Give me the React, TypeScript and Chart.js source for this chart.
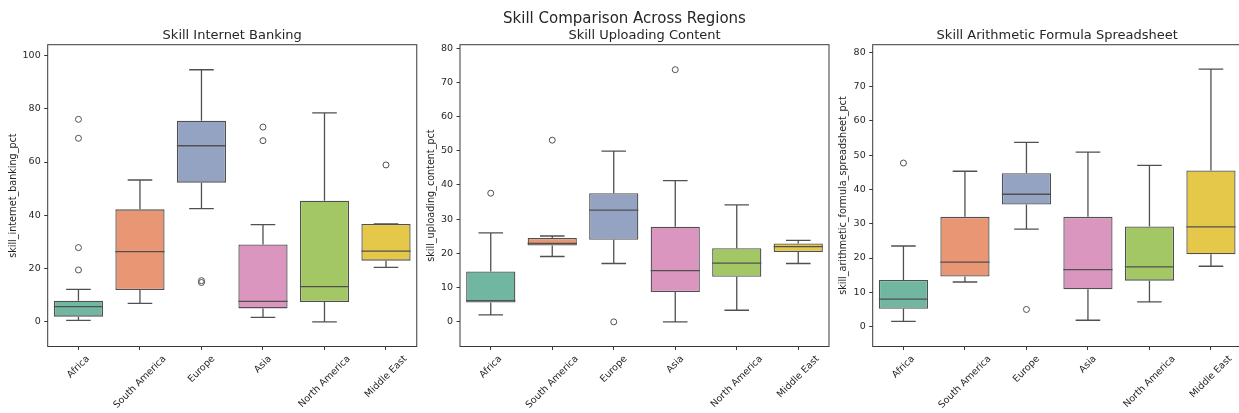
import React, { useEffect, useRef } from "react";
import { Chart, registerables } from "chart.js";

Chart.register(...registerables);

const regions = ["Africa", "South America", "Europe", "Asia", "North America", "Middle East"];
const palette = ["#71b6a1", "#e99675", "#95a3c3", "#db96c0", "#a2c764", "#e5c849"];

// Skill Internet Banking
const bankingLow = [0.6, 7.0, 42.5, 1.75, 0.0, 20.5];
const bankingQ1 = [2.0, 12.0, 52.25, 5.1, 7.5, 23.0];
const bankingMedian = [5.75, 26.4, 66.1, 7.75, 13.25, 26.6];
const bankingQ3 = [8.0, 42.25, 75.5, 29.1, 45.5, 36.75];
const bankingHigh = [12.25, 53.25, 94.6, 36.5, 78.4, 36.75];
const bankingOutliers = [[19.5, 27.9, 68.9, 76.0], [], [14.8, 15.5], [68.0, 73.1], [], [58.9]];

// Skill Uploading Content
const uploadLow = [2.05, 19.1, 17.05, 0.0, 3.4, 17.05];
const uploadQ1 = [5.65, 22.3, 24.0, 8.7, 13.2, 20.4];
const uploadMedian = [6.2, 22.9, 32.65, 15.0, 17.15, 22.0];
const uploadQ3 = [14.7, 24.5, 37.6, 27.8, 21.5, 22.9];
const uploadHigh = [26.0, 25.1, 49.9, 41.3, 34.2, 23.8];
const uploadOutliers = [[37.6], [53.1], [0.0], [73.7], [], []];

// Skill Arithmetic Formula Spreadsheet
const sheetLow = [1.5, 13.0, 28.4, 1.85, 7.2, 17.6];
const sheetQ1 = [5.2, 14.6, 35.6, 10.9, 13.4, 21.1];
const sheetMedian = [8.0, 18.8, 38.6, 16.6, 17.4, 29.1];
const sheetQ3 = [13.6, 32.0, 44.7, 32.0, 29.2, 45.5];
const sheetHigh = [23.5, 45.3, 53.7, 50.9, 47.0, 75.1];
const sheetOutliers = [[47.7], [], [5.0], [], [], []];

const suptitle = "Skill Comparison Across Regions";

const LINE = "#505050";
const FRAME = "#3a3a3a";
const TEXT = "#262626";
const FONT = "'DejaVu Sans', sans-serif";

type Panel = {
  title: string;
  yLabel: string;
  low: number[];
  q1: number[];
  median: number[];
  q3: number[];
  high: number[];
  outliers: number[][];
  min: number;
  max: number;
  step: number;
  left: number;
  width: number;
  yWidth: number;
  padRight: number;
  yLabelX: number;
  supX?: number;
};

const panels: Panel[] = [
  {
    title: "Skill Internet Banking",
    yLabel: "skill_internet_banking_pct",
    low: bankingLow, q1: bankingQ1, median: bankingMedian, q3: bankingQ3, high: bankingHigh,
    outliers: bankingOutliers,
    min: -9.2, max: 104, step: 20,
    left: 0, width: 430, yWidth: 47.7, padRight: 13.25, yLabelX: 13.5,
  },
  {
    title: "Skill Uploading Content",
    yLabel: "skill_uploading_content_pct",
    low: uploadLow, q1: uploadQ1, median: uploadMedian, q3: uploadQ3, high: uploadHigh,
    outliers: uploadOutliers,
    min: -7.2, max: 81, step: 10,
    left: 418, width: 432, yWidth: 42, padRight: 21, yLabelX: 13.7,
    supX: 624.5 - 418,
  },
  {
    title: "Skill Arithmetic Formula Spreadsheet",
    yLabel: "skill_arithmetic_formula_spreadsheet_pct",
    low: sheetLow, q1: sheetQ1, median: sheetMedian, q3: sheetQ3, high: sheetHigh,
    outliers: sheetOutliers,
    min: -5.8, max: 82.2, step: 10,
    left: 835, width: 425, yWidth: 37.7, padRight: 18.3, yLabelX: 8.7,
  },
];

const TOP = 44.7;
const XHEIGHT = 66.5;

function makeBoxPlugin(p: Panel) {
  return {
    id: "boxExtras",
    afterDatasetsDraw(chart: any) {
      const ctx = chart.ctx;
      const xs = chart.scales.x;
      const ys = chart.scales.y;
      const meta = chart.getDatasetMeta(0);
      ctx.save();
      ctx.strokeStyle = LINE;
      ctx.lineWidth = 1.3;
      p.q1.forEach((_, i) => {
        const x = xs.getPixelForValue(i);
        const bw = meta.data[i].width;
        const cap = bw * 0.25;
        const yLow = ys.getPixelForValue(p.low[i]);
        const yQ1 = ys.getPixelForValue(p.q1[i]);
        const yMed = ys.getPixelForValue(p.median[i]);
        const yQ3 = ys.getPixelForValue(p.q3[i]);
        const yHigh = ys.getPixelForValue(p.high[i]);
        ctx.beginPath();
        ctx.moveTo(x, yQ3);
        ctx.lineTo(x, yHigh);
        ctx.moveTo(x - cap, yHigh);
        ctx.lineTo(x + cap, yHigh);
        ctx.moveTo(x, yQ1);
        ctx.lineTo(x, yLow);
        ctx.moveTo(x - cap, yLow);
        ctx.lineTo(x + cap, yLow);
        ctx.moveTo(x - bw / 2, yMed);
        ctx.lineTo(x + bw / 2, yMed);
        ctx.stroke();
      });
      ctx.restore();
    },
    afterDraw(chart: any) {
      const ctx = chart.ctx;
      const a = chart.chartArea;
      const xs = chart.scales.x;
      ctx.save();
      ctx.strokeStyle = FRAME;
      ctx.lineWidth = 1;
      ctx.strokeRect(a.left, a.top, a.right - a.left, a.bottom - a.top);
      ctx.fillStyle = TEXT;
      ctx.font = `13px ${FONT}`;
      ctx.textAlign = "center";
      ctx.textBaseline = "alphabetic";
      ctx.fillText(p.title, (a.left + a.right) / 2, 39);
      if (p.supX !== undefined) {
        ctx.font = `15px ${FONT}`;
        ctx.fillText(suptitle, p.supX, 22.7);
      }
      ctx.font = `9.6px ${FONT}`;
      ctx.save();
      ctx.translate(p.yLabelX, (a.top + a.bottom) / 2);
      ctx.rotate(-Math.PI / 2);
      ctx.textAlign = "center";
      ctx.textBaseline = "middle";
      ctx.fillText(p.yLabel, 0, 0);
      ctx.restore();
      ctx.font = `9.5px ${FONT}`;
      regions.forEach((r, i) => {
        const tx = xs.getPixelForValue(i);
        const w = ctx.measureText(r).width;
        const h = 11;
        const bh = (w + h) * Math.SQRT1_2;
        const cy = a.bottom + 7 + bh / 2;
        ctx.save();
        ctx.translate(tx, cy);
        ctx.rotate(-Math.PI / 4);
        ctx.textAlign = "center";
        ctx.textBaseline = "middle";
        ctx.fillText(r, 0, 0);
        ctx.restore();
      });
      ctx.restore();
    },
  };
}

function PanelChart({ p }: { p: Panel }) {
  const ref = useRef<HTMLCanvasElement | null>(null);
  useEffect(() => {
    if (!ref.current) return;
    const outlierPoints: { x: string; y: number }[] = [];
    p.outliers.forEach((list, i) => list.forEach((v) => outlierPoints.push({ x: regions[i], y: v })));
    const chart = new Chart(ref.current, {
      type: "bar",
      data: {
        labels: regions,
        datasets: [
          {
            type: "bar",
            data: p.q1.map((q, i) => [q, p.q3[i]]) as any,
            backgroundColor: palette,
            borderColor: LINE,
            borderWidth: 1.3,
            borderSkipped: false,
            categoryPercentage: 0.8,
            barPercentage: 1,
          } as any,
          {
            type: "line",
            data: outlierPoints as any,
            showLine: false,
            pointRadius: 3,
            pointBackgroundColor: "rgba(0,0,0,0)",
            pointBorderColor: LINE,
            pointBorderWidth: 1,
          } as any,
        ],
      },
      options: {
        animation: false,
        responsive: false,
        devicePixelRatio: 1,
        layout: { padding: { left: 0, right: p.padRight, top: TOP, bottom: 0 } },
        plugins: { legend: { display: false }, tooltip: { enabled: false }, title: { display: false } },
        scales: {
          x: {
            type: "category",
            offset: true,
            grid: { display: true, drawOnChartArea: false, drawTicks: true, tickLength: 3.5, color: FRAME, offset: false },
            border: { display: false },
            ticks: { display: false },
            afterFit: (s: any) => { s.height = XHEIGHT; },
          },
          y: {
            type: "linear",
            min: p.min,
            max: p.max,
            grid: { display: true, drawOnChartArea: false, drawTicks: true, tickLength: 3.5, color: FRAME },
            border: { display: false },
            ticks: { stepSize: p.step, includeBounds: false, color: TEXT, padding: 3.5, font: { family: FONT, size: 9.5 } },
            afterFit: (s: any) => { s.width = p.yWidth; },
          },
        },
      } as any,
      plugins: [makeBoxPlugin(p)],
    });
    return () => chart.destroy();
  }, [p]);
  return (
    <canvas
      ref={ref}
      width={p.width}
      height={413}
      style={{ position: "absolute", left: p.left, top: 0, width: p.width, height: 413 }}
    />
  );
}

export default function App() {
  return (
    <div
      style={{
        position: "fixed",
        left: 0,
        top: 0,
        width: 1239,
        height: 413,
        overflow: "hidden",
        background: "#ffffff",
      }}
    >
      {panels.map((p) => (
        <PanelChart key={p.title} p={p} />
      ))}
    </div>
  );
}
